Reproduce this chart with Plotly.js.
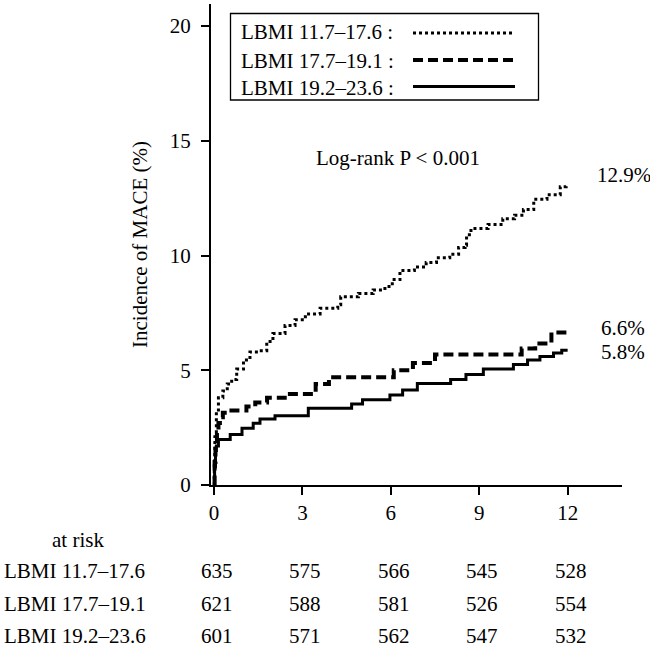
<!DOCTYPE html>
<html><head><meta charset="utf-8">
<script src="https://cdn.plot.ly/plotly-3.0.1.min.js"></script>
<style>html,body{margin:0;padding:0;background:#fff}</style>
</head><body><div id="chart" style="width:650px;height:649px"></div>
<script>
// ---- data ----
const groupNames = ["LBMI 11.7–17.6", "LBMI 17.7–19.1", "LBMI 19.2–23.6"];

const lowT = [0, 0.01, 0.03, 0.08, 0.15, 0.3, 0.45, 0.6, 0.77, 1.0, 1.22, 1.5, 1.79, 2.0, 2.41, 2.75, 3.1, 3.6, 4.2, 4.3, 4.9, 5.4, 5.8, 6.05, 6.31, 6.8, 7.2, 7.55, 8.0, 8.3, 8.52, 8.57, 8.72, 9.3, 9.8, 10.2, 10.5, 10.85, 11.3, 11.75, 11.95];
const lowY = [0, 1.0, 2.1, 3.1, 3.8, 4.1, 4.4, 4.6, 5.05, 5.45, 5.8, 5.85, 6.25, 6.6, 6.95, 7.2, 7.45, 7.7, 7.85, 8.2, 8.35, 8.5, 8.65, 8.95, 9.35, 9.5, 9.7, 9.9, 10.05, 10.35, 10.45, 10.9, 11.18, 11.35, 11.6, 11.75, 12.0, 12.45, 12.65, 13.0, 13.15];

const midT = [0, 0.02, 0.05, 0.1, 0.15, 0.2, 0.3, 0.45, 1.1, 1.4, 1.8, 2.4, 3.45, 3.9, 6.1, 6.75, 7.5, 10.44, 10.9, 11.45, 12.0];
const midY = [0, 1.0, 1.8, 2.3, 2.7, 2.95, 3.15, 3.25, 3.42, 3.6, 3.8, 3.97, 4.4, 4.7, 5.0, 5.32, 5.69, 5.95, 6.17, 6.65, 6.65];

const highT = [0, 0.02, 0.05, 0.08, 0.15, 0.55, 0.95, 1.33, 1.56, 2.07, 3.2, 4.67, 5.04, 5.97, 6.4, 6.9, 8.03, 8.55, 9.14, 10.16, 10.64, 11.06, 11.52, 11.8, 12.0];
const highY = [0, 0.8, 1.5, 1.7, 1.98, 2.2, 2.47, 2.69, 2.88, 3.02, 3.34, 3.53, 3.72, 3.92, 4.14, 4.42, 4.6, 4.82, 5.05, 5.25, 5.45, 5.6, 5.75, 5.87, 5.87];

const endLabels = ["12.9%", "6.6%", "5.8%"];
const xTicks = [0, 3, 6, 9, 12];
const yTicks = [0, 5, 10, 15, 20];
const riskLow = [635, 575, 566, 545, 528];
const riskMid = [621, 588, 581, 526, 554];
const riskHigh = [601, 571, 562, 547, 532];
const pText = "Log-rank P < 0.001";
const atRiskTitle = "at risk";

// ---- layout helpers ----
const W = 650, H = 649, L = 211, R = 28, T = 4, B = 164;
const PW = W - L - R, PH = H - T - B;
const px = x => (x - L) / PW;
const py = y => (H - B - y) / PH;
const FONT = "Liberation Serif, Times New Roman, serif";
const FS = 21;

const styles = [
  {dash: "3px,3px", width: 3},
  {dash: "10px,5px", width: 4},
  {dash: "solid", width: 3}
];
const series = [[lowT, lowY], [midT, midY], [highT, highY]];

const traces = series.map((s, i) => ({
  type: "scatter", mode: "lines", x: s[0], y: s[1], name: groupNames[i],
  line: {shape: "hv", color: "#000", width: styles[i].width, dash: styles[i].dash},
  showlegend: false, hoverinfo: "skip"
}));

const ann = [];
const shapes = [];

// legend box
shapes.push({type: "rect", xref: "paper", yref: "paper", x0: px(230.5), x1: px(538.5), y0: py(13.5), y1: py(100), line: {color: "#000", width: 1.3}, fillcolor: "rgba(0,0,0,0)"});
const legRowY = [32, 61, 88];
const legLineY = [33, 60, 86.5];
groupNames.forEach((n, i) => {
  ann.push({xref: "paper", yref: "paper", x: px(239), y: py(legRowY[i]), xanchor: "left", yanchor: "middle", text: n + " :", showarrow: false, font: {family: FONT, size: FS, color: "#000"}});
  shapes.push({type: "line", xref: "paper", yref: "paper", x0: px(413), x1: px(515), y0: py(legLineY[i]), y1: py(legLineY[i]), line: {color: "#000", width: styles[i].width, dash: styles[i].dash}});
});

// p-value
ann.push({xref: "paper", yref: "paper", x: px(398), y: py(158), xanchor: "center", yanchor: "middle", text: pText, showarrow: false, font: {family: FONT, size: FS, color: "#000"}});

// end labels
const endPos = [[595, 175], [599, 328], [599, 352]];
endLabels.forEach((t, i) => {
  ann.push({xref: "paper", yref: "paper", x: px(endPos[i][0]), y: py(endPos[i][1]), xanchor: "left", yanchor: "middle", text: t, showarrow: false, font: {family: FONT, size: FS, color: "#000"}});
});

// at risk table
ann.push({xref: "paper", yref: "paper", x: px(78), y: py(540), xanchor: "center", yanchor: "middle", text: atRiskTitle, showarrow: false, font: {family: FONT, size: FS, color: "#000"}});
const rowY = [571, 604, 636];
const risks = [riskLow, riskMid, riskHigh];
groupNames.forEach((n, i) => {
  ann.push({xref: "paper", yref: "paper", x: px(3), y: py(rowY[i]), xanchor: "left", yanchor: "middle", text: n, showarrow: false, borderpad: 0, font: {family: FONT, size: FS, color: "#000"}});
  risks[i].forEach((v, j) => {
    ann.push({xref: "x", yref: "paper", x: xTicks[j], xshift: 3, y: py(rowY[i]), xanchor: "center", yanchor: "middle", text: String(v), showarrow: false, borderpad: 0, font: {family: FONT, size: FS, color: "#000"}});
  });
});

const layout = {
  width: W, height: H,
  margin: {l: L, r: R, t: T, b: B},
  paper_bgcolor: "#fff", plot_bgcolor: "#fff",
  font: {family: FONT, size: FS, color: "#000"},
  showlegend: false,
  xaxis: {
    range: [-0.102, 13.845], tickvals: xTicks, ticktext: xTicks.map(String),
    ticks: "outside", ticklen: 8, tickwidth: 2, tickcolor: "#000",
    showline: true, linewidth: 2, linecolor: "#000",
    showgrid: false, zeroline: false, tickfont: {family: FONT, size: FS, color: "#000"}
  },
  yaxis: {
    range: [0, 20.96], tickvals: yTicks, ticktext: yTicks.map(String),
    ticks: "outside", ticklen: 8, tickwidth: 2, tickcolor: "#000",
    ticklabelstandoff: 6,
    showline: true, linewidth: 2, linecolor: "#000",
    showgrid: false, zeroline: false, tickfont: {family: FONT, size: FS, color: "#000"},
    title: {text: "Incidence of MACE (%)", font: {family: FONT, size: FS, color: "#000"}, standoff: 16}
  },
  annotations: ann,
  shapes: shapes
};

Plotly.newPlot("chart", traces, layout, {staticPlot: true, displayModeBar: false});
</script>
</body></html>
